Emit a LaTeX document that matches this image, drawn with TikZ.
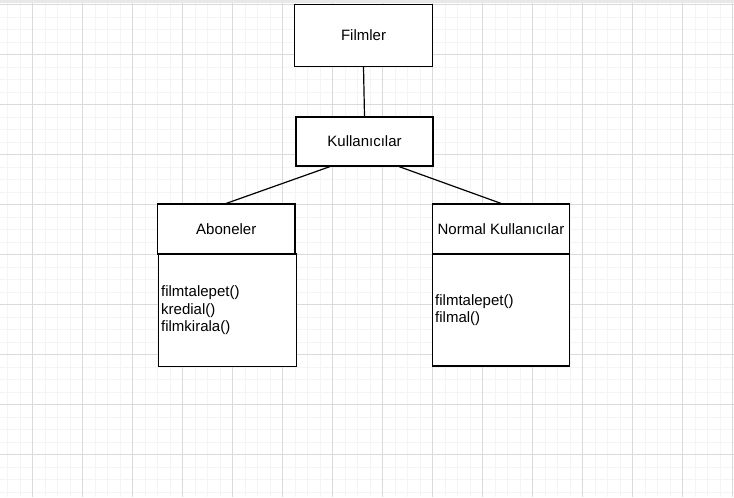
\documentclass[tikz,border=0pt]{standalone}
\usepackage{fontspec}
\setmainfont{Liberation Sans}
\usetikzlibrary{calc}
\definecolor{gridmajor}{HTML}{DADADA}
\definecolor{gridminor}{HTML}{F4F4F4}
\begin{document}
\begin{tikzpicture}[x=0.75pt,y=-0.75pt,
  minorline/.style={draw=gridminor,line width=0.75pt},
  majorline/.style={draw=gridmajor,line width=0.75pt},
  umlbox/.style={draw=black,line width=0.9pt,fill=white,inner sep=0pt,
    font=\fontsize{11.25pt}{13.1pt}\selectfont},
  umlbody/.style={draw=black,line width=0.9pt,fill=white,inner ysep=0pt,inner xsep=2pt,
    align=left,font=\fontsize{11.25pt}{13.1pt}\selectfont},
  link/.style={draw=black,line width=0.9pt}]
\useasboundingbox (0,0) rectangle (734,497);
\fill[white] (0,0) rectangle (734,497);
% grid
\foreach \k in {0,...,58} \draw[minorline] (7.5+12.5*\k,0) -- (7.5+12.5*\k,497);
\foreach \k in {0,...,39} \draw[minorline] (0,4.5+12.5*\k) -- (734,4.5+12.5*\k);
\foreach \k in {0,...,14} \draw[majorline] (32.5+50*\k,0) -- (32.5+50*\k,497);
\foreach \k in {0,...,9} \draw[majorline] (0,4.5+50*\k) -- (734,4.5+50*\k);
\fill[gray!18] (0,0) rectangle (734,2.5);
% boxes
\node[umlbox,minimum width=103.5pt,minimum height=46.5pt] (f) at (363.5,35.5) {Filmler};
\node[umlbox,minimum width=102.75pt,minimum height=36.75pt] (k) at (364.5,141.5) {Kullanıcılar};
\node[umlbox,minimum width=103.1pt,minimum height=37.5pt] (a) at (226.25,229) {Aboneler};
\node[umlbody,text width=99.5pt,minimum height=84.4pt] (ab) at (227.5,310.25) {filmtalepet()\\kredial()\\filmkirala()};
\node[umlbox,minimum width=102.75pt,minimum height=37.5pt] (n) at (501,229) {Normal Kullanıcılar};
\node[umlbody,text width=98.75pt,minimum height=84pt] (nb) at (501,310) {filmtalepet()\\filmal()};
% connectors
\draw[link] (f.south) -- (k.north);
\draw[link] ($(k.south west)!0.25!(k.south east)$) -- (a.north);
\draw[link] ($(k.south west)!0.75!(k.south east)$) -- (n.north);
\end{tikzpicture}
\end{document}
